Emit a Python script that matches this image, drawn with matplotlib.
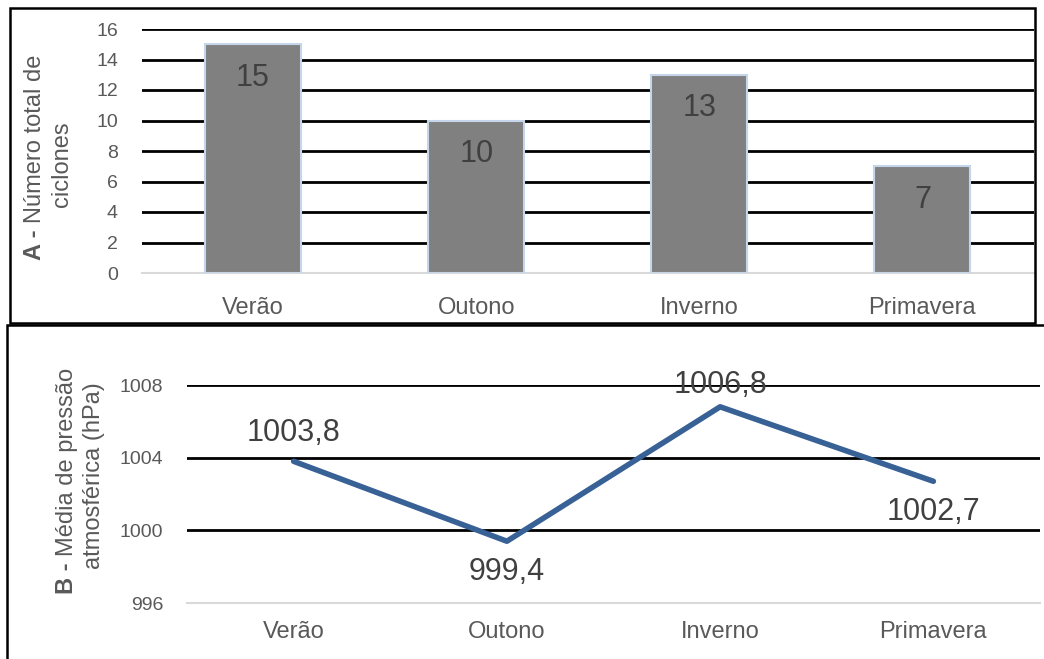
import matplotlib
matplotlib.use('Agg')
import matplotlib.pyplot as plt
from matplotlib.patches import Rectangle

# data
estacoes = ['Verão', 'Outono', 'Inverno', 'Primavera']
num_ciclones = [15, 10, 13, 7]
pressao_media = [1003.8, 999.4, 1006.8, 1002.7]
pressao_labels = ['1003,8', '999,4', '1006,8', '1002,7']

plt.rcParams['font.family'] = ['Liberation Sans', 'DejaVu Sans']

W, H = 1044, 659
fig = plt.figure(figsize=(W / 100, H / 100), dpi=100)

def fx(px):
    return px / W

def fy(py):
    return 1 - py / H

gray_txt = '#595959'
dark_txt = '#404040'

# panel borders
fig.patches.append(Rectangle((fx(10), fy(323)), fx(1035) - fx(10), fy(8) - fy(323),
                             transform=fig.transFigure, fill=False, edgecolor='black', linewidth=1.8))
fig.patches.append(Rectangle((fx(7), fy(670)), fx(1060) - fx(7), fy(325) - fy(670),
                             transform=fig.transFigure, fill=False, edgecolor='black', linewidth=1.8))

# --- A: number of cyclones (bar chart)
axA = fig.add_axes([fx(141.5), fy(273), fx(1034) - fx(141.5), fy(29) - fy(273)])
x = range(len(estacoes))
axA.bar(x, num_ciclones, width=0.43, color='#808080', edgecolor='#C5D5EA', linewidth=1.5, zorder=3)
for i, v in enumerate(num_ciclones):
    axA.text(i, v - 1.2, str(v), ha='center', va='top', fontsize=22, color=dark_txt, zorder=4)
axA.set_ylim(0, 16)
axA.set_xlim(-0.5, 3.5)
axA.set_yticks(range(0, 17, 2))
axA.set_xticks(list(x))
axA.set_xticklabels(estacoes, fontsize=17, color=gray_txt)
axA.tick_params(axis='y', labelsize=14, labelcolor=gray_txt, length=0, pad=17)
axA.tick_params(axis='x', length=0, pad=17)
for y in range(2, 17, 2):
    axA.axhline(y, color='black', linewidth=2, zorder=1)
for s in ['top', 'right', 'left']:
    axA.spines[s].set_visible(False)
axA.spines['bottom'].set_color('#D9D9D9')
axA.spines['bottom'].set_linewidth(1.5)

# --- B: mean atmospheric pressure (line chart)
axB = fig.add_axes([fx(187), fy(603), fx(1040) - fx(187), fy(385) - fy(603)])
axB.plot(list(x), pressao_media, color='#386196', linewidth=4, solid_capstyle='round', zorder=3)
offsets = [(0, 9.5, 'bottom'), (0, -11, 'top'), (0, 5, 'bottom'), (0, -11.5, 'top')]
for i, (v, lab) in enumerate(zip(pressao_media, pressao_labels)):
    dx, dy, va = offsets[i]
    axB.annotate(lab, (i, v), xytext=(dx, dy), textcoords='offset points', ha='center', va=va,
                 fontsize=22, color=dark_txt, zorder=4, annotation_clip=False)
axB.set_ylim(996, 1008)
axB.set_xlim(-0.5, 3.5)
axB.set_yticks([996, 1000, 1004, 1008])
axB.set_xticks(list(x))
axB.set_xticklabels(estacoes, fontsize=17, color=gray_txt)
axB.tick_params(axis='y', labelsize=14, labelcolor=gray_txt, length=0, pad=17)
axB.tick_params(axis='x', length=0, pad=13)
for y in [1000, 1004, 1008]:
    axB.axhline(y, color='black', linewidth=2, zorder=1)
for s in ['top', 'right', 'left']:
    axB.spines[s].set_visible(False)
axB.spines['bottom'].set_color('#D9D9D9')
axB.spines['bottom'].set_linewidth(1.5)

# rotated axis titles with a bold prefix, placed piece by piece
renderer = fig.canvas.get_renderer()
label_size = 17

def text_width(s, weight):
    t = fig.text(0, 0, s, fontsize=label_size, fontweight=weight)
    w = t.get_window_extent(renderer).width
    t.remove()
    return w

def rotated_line(parts, base_x, center_y):
    gap = 0.278 * label_size * 100 / 72
    widths = [text_width(s, wt) for s, wt in parts]
    total = sum(widths) + gap * (len(parts) - 1)
    ypos = center_y + total / 2  # image coords, text runs upward
    for (s, wt), w in zip(parts, widths):
        fig.text(fx(base_x), fy(ypos), s, rotation=90, rotation_mode='anchor', ha='left', va='baseline',
                 fontsize=label_size, fontweight=wt, color=gray_txt)
        ypos -= w + gap

rotated_line([('A -', 'bold'), ('Número total de', 'normal')], 41, 157)
rotated_line([('ciclones', 'normal')], 68, 164)
rotated_line([('B -', 'bold'), ('Média de pressão', 'normal')], 73, 481)
rotated_line([('atmosférica (hPa)', 'normal')], 100, 476)

fig.savefig('out.png', dpi=100)
